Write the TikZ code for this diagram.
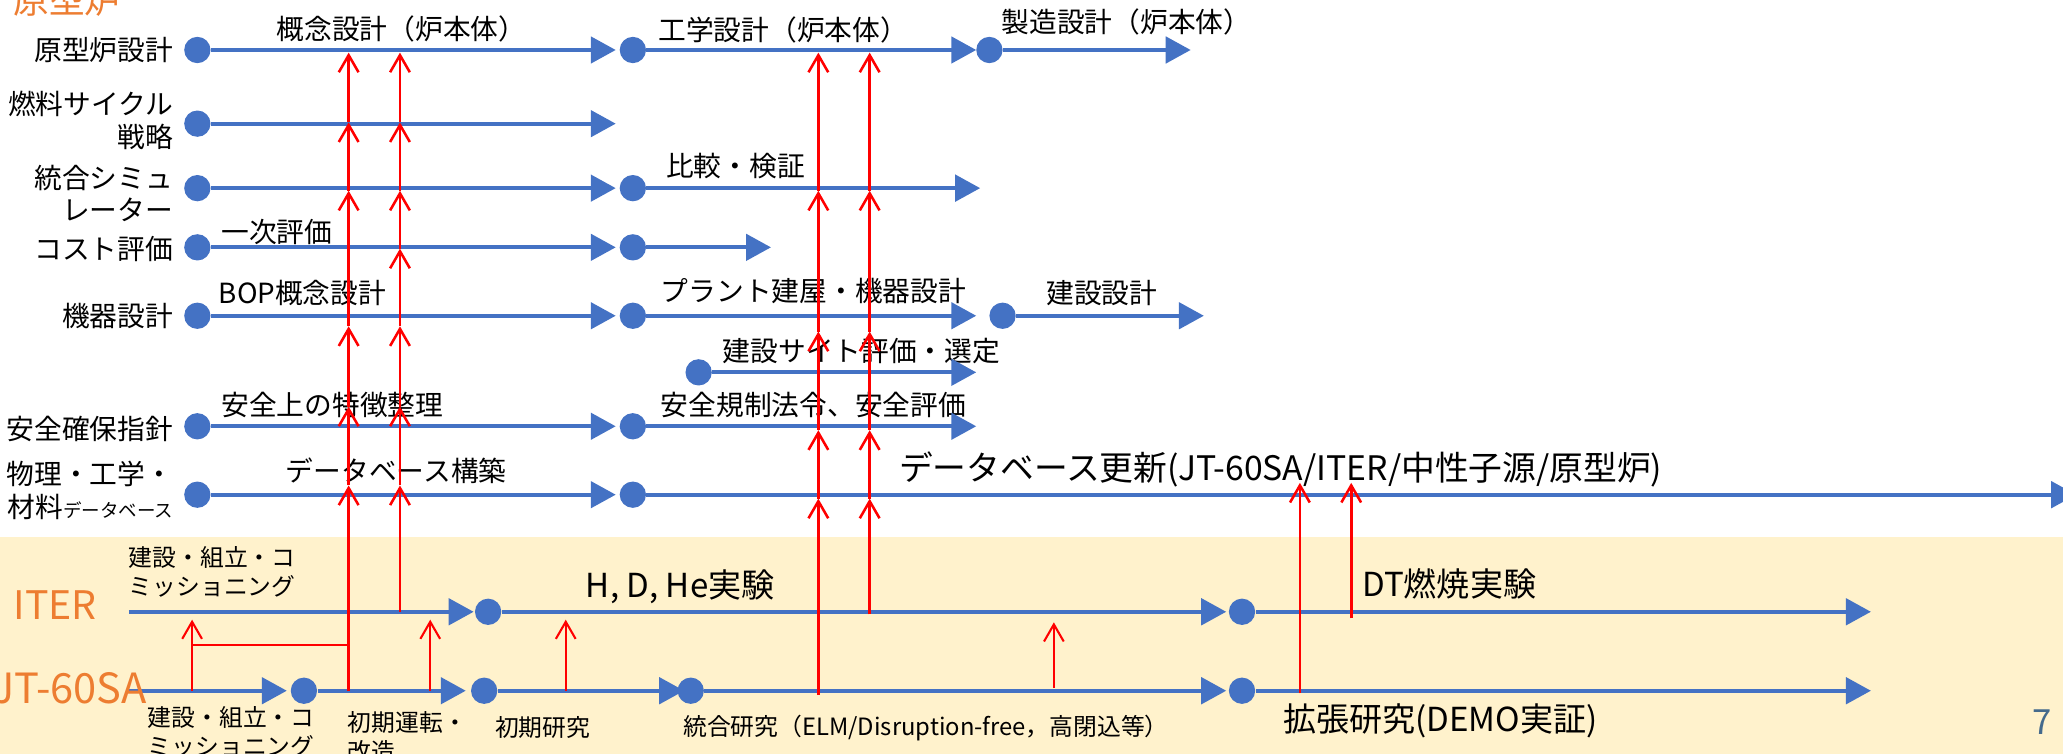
\documentclass[tikz,border=0pt]{standalone}
\usepackage{fontspec}
\setmainfont{Noto Sans CJK JP}
\usetikzlibrary{arrows.meta}
\definecolor{rowblue}{RGB}{68,114,196}
\definecolor{phaseorange}{RGB}{237,125,49}
\definecolor{bandyellow}{RGB}{255,242,204}
\definecolor{pageblue}{RGB}{68,106,140}
\tikzset{
  rowdot/.style={circle,fill=rowblue,inner sep=0pt,minimum size=0.4cm},
  rowarrow/.style={draw=rowblue,line width=1.7pt,-{Triangle[length=0.38cm,width=0.4cm]}},
  feed/.style={draw=red,line width=1.1pt,-{Straight Barb[length=0.26cm,width=0.3cm]}},
  thinfeed/.style={feed,line width=0.9pt},
  rowname/.style={inner sep=0pt,anchor=east,align=right,font=\fontsize{12}{14.2}\selectfont},
  steplabel/.style={inner sep=0pt,anchor=west,font=\fontsize{12}{14.2}\selectfont},
  notelabel/.style={inner sep=0pt,anchor=west,align=left,font=\fontsize{10.3}{12.5}\selectfont},
  biglabel/.style={inner sep=0pt,anchor=west,font=\fontsize{14.3}{16}\selectfont},
  phasename/.style={inner sep=0pt,text=phaseorange,font=\fontsize{17}{19}\selectfont},
}
% red feed line: name, x, start y, tip ys
\newcommand\feedline[4]{
  \coordinate (#1-0) at (#2,#3);
  \foreach \y [count=\i] in {#4}
  {
    \pgfmathtruncatemacro{\j}{\i-1}
    \coordinate (#1-\i) at (#2,\y);
    \draw[feed] (#1-\j) -- (#1-\i);
  }
}
\begin{document}
\begin{tikzpicture}[x=0.02cm, y=-0.02cm]
\useasboundingbox (0,0) rectangle (1568,573);
\fill[bandyellow] (0,408) rectangle (1568,573);

% row names
\node[rowname] (n1) at (132,38) {原型炉設計};
\node[rowname] (n2) at (132,91.5) {燃料サイクル\\戦略};
\node[rowname] (n3) at (132,147) {統合シミュ\\レーター};
\node[rowname] (n4) at (132,189) {コスト評価};
\node[rowname] (n5) at (132,240) {機器設計};
\node[rowname] (n7) at (132,326) {安全確保指針};
\node[rowname] (n8) at (132,373) {物理・工学・\\材料{\fontsize{8}{9}\selectfont データベース}};

% step labels
\node[steplabel] (s11) at (210,22) {概念設計（炉本体）};
\node[steplabel] (s12) at (500,23) {工学設計（炉本体）};
\node[steplabel] (s13) at (761,16.5) {製造設計（炉本体）};
\node[steplabel] (s32) at (506,126) {比較・検証};
\node[steplabel] (s41) at (168,176) {一次評価};
\node[steplabel] (s51) at (166,223) {BOP概念設計};
\node[steplabel] (s52) at (502,221) {プラント建屋・機器設計};
\node[steplabel] (s53) at (795,223) {建設設計};
\node[steplabel] (s62) at (549,267) {建設サイト評価・選定};
\node[steplabel] (s71) at (168,308) {安全上の特徴整理};
\node[steplabel] (s72) at (502,308) {安全規制法令、安全評価};
\node[steplabel] (s81) at (217,358) {データベース構築};
\node[biglabel,font=\fontsize{14.6}{16}\selectfont] (s82) at (683,357) {データベース更新(JT-60SA/ITER/中性子源/原型炉)};

% ITER and JT-60SA labels
\node[notelabel] (iterpre) at (97.6,435) {建設・組立・コ\\ミッショニング};
\node[biglabel] (iterhd) at (445,446) {H, D, He実験};
\node[biglabel] (iterdt) at (1035,444) {DT燃焼実験};
\node[notelabel] (jtpre) at (112,556) {建設・組立・コ\\ミッショニング};
\node[notelabel] (jtfirst) at (264,560) {初期運転・\\改造};
\node[notelabel] (jtinit) at (376,553) {初期研究};
\node[notelabel] (jtint) at (519,553) {統合研究（ELM/Disruption-free，高閉込等）};
\node[biglabel] (jtext) at (975,548) {拡張研究(DEMO実証)};
\node[text=pageblue,font=\fontsize{15}{17}\selectfont,inner sep=0pt] (page) at (1552,549) {7};

% first phase
\foreach \r/\y in {1/38,2/94,3/143,4/188,5/240,7/324,8/376}
{
  \node[rowdot] (a\r) at (150,\y) {};
  \coordinate (ae\r) at (468,\y);
  \draw[rowarrow] (a\r) -- (ae\r);
}
% second phase
\foreach \r/\y/\e in {1/38/742,3/143/745,4/188/586,5/240/742,7/324/742,8/376/1578}
{
  \node[rowdot] (b\r) at (481,\y) {};
  \coordinate (be\r) at (\e,\y);
  \draw[rowarrow] (b\r) -- (be\r);
}
\node[rowdot] (b6) at (531,283) {};
\coordinate (be6) at (742,283);
\draw[rowarrow] (b6) -- (be6);
% third phase
\foreach \r/\y/\s/\e in {1/38/752/905,5/240/762/915}
{
  \node[rowdot] (c\r) at (\s,\y) {};
  \coordinate (ce\r) at (\e,\y);
  \draw[rowarrow] (c\r) -- (ce\r);
}

% ITER
\coordinate (i0) at (98,465);
\coordinate (ie0) at (360,465);
\node[rowdot] (i1) at (371,465) {};
\coordinate (ie1) at (932,465);
\node[rowdot] (i2) at (944,465) {};
\coordinate (ie2) at (1422,465);
\draw[rowarrow] (i0) -- (ie0);
\draw[rowarrow] (i1) -- (ie1);
\draw[rowarrow] (i2) -- (ie2);

% JT-60SA
\coordinate (j0) at (98,525);
\coordinate (je0) at (218,525);
\node[rowdot] (j1) at (231,525) {};
\coordinate (je1) at (354,525);
\node[rowdot] (j2) at (368,525) {};
\coordinate (je2) at (520,525);
\node[rowdot] (j3) at (525,525) {};
\coordinate (je3) at (932,525);
\node[rowdot] (j4) at (944,525) {};
\coordinate (je4) at (1422,525);
\foreach \k in {0,...,4}
{
  \draw[rowarrow] (j\k) -- (je\k);
}

% feeds
\feedline{A}{265}{525}{369,309,248,145,93,40}
\feedline{B}{304}{465}{369,309,248,189,145,93,40}
\feedline{C}{622}{528}{379,327,252,145,40}
\feedline{D}{661}{467}{379,327,252,145,40}
\feedline{E}{988}{527}{367}
\feedline{F}{1027}{470}{367}
\foreach \n/\x/\s/\t in {k/146/525/471,m/327/525/471,p/430/525/471,q/801/523/473}
{
  \coordinate (\n0) at (\x,\s);
  \coordinate (\n1) at (\x,\t);
  \draw[thinfeed] (\n0) -- (\n1);
}
\coordinate (kb) at (146,490);
\coordinate (ka) at (265,490);
\draw[thinfeed,-] (kb) -- (ka);

% phase names
\node[phasename,anchor=base west,font=\fontsize{15.4}{17}\selectfont] (proto) at (10,10.5) {原型炉};
\node[phasename,anchor=base west] (iter) at (10,471) {ITER};
\node[phasename,anchor=base east,font=\fontsize{18}{20}\selectfont] (jt) at (112,535) {JT-60SA};
\end{tikzpicture}
\end{document}
